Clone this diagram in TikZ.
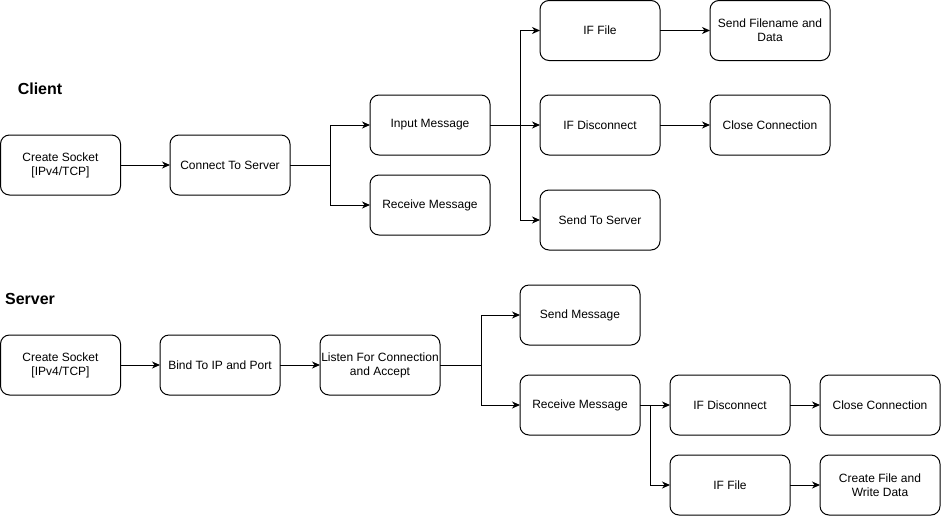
\documentclass[tikz,border=0pt]{standalone}
\usepackage{fontspec}
\setmainfont{Liberation Sans}
\usetikzlibrary{arrows.meta}
\begin{document}
\begin{tikzpicture}[x=1pt,y=-1pt,
  stepbox/.style={draw=black, line width=1pt, rounded corners=9pt,
    minimum width=120pt, minimum height=60pt, inner sep=1pt, outer sep=0pt,
    align=center, font=\fontsize{12}{14}\selectfont},
  title/.style={font=\fontsize{16}{18}\selectfont\bfseries, inner sep=0pt},
  arr/.style={line width=1pt, -{Stealth[length=8pt,width=7pt,inset=2.5pt]}},
  ln/.style={line width=1pt}]
\useasboundingbox (0,0) rectangle (941,517);

% ---- Client ----
\node[title] (client) at (40,89) {Client};
\node[stepbox] (ccs)   at (60.5,165) {Create Socket\\{}[IPv4/TCP]};
\node[stepbox] (ccon)  at (230,165) {Connect To Server};
\node[stepbox] (cin)   at (430,125) {Input Message};
\node[stepbox] (crecv) at (430,205) {Receive Message};
\node[stepbox] (cfile) at (600,30.5) {IF File};
\node[stepbox] (cdisc) at (600,125) {IF Disconnect};
\node[stepbox] (csend) at (600,220) {Send To Server};
\node[stepbox] (cfdat) at (770,30.5) {Send Filename and\\Data};
\node[stepbox] (cclose) at (770,125) {Close Connection};

\coordinate (cj1) at (330,165);
\coordinate (cj2) at (520,125);
\draw[arr] (ccs) -- (ccon);
\draw[ln] (ccon) -- (cj1);
\draw[arr] (cj1) |- (cin);
\draw[arr] (cj1) |- (crecv);
\draw[ln] (cin) -- (cj2);
\draw[arr] (cj2) |- (cfile);
\draw[arr] (cj2) -- (cdisc);
\draw[arr] (cj2) |- (csend);
\draw[arr] (cfile) -- (cfdat);
\draw[arr] (cdisc) -- (cclose);

% ---- Server ----
\node[title] (server) at (30,299) {Server};
\node[stepbox] (scs)   at (60.5,365) {Create Socket\\{}[IPv4/TCP]};
\node[stepbox] (sbind) at (220,365) {Bind To IP and Port};
\node[stepbox] (slist) at (380,365) {Listen For Connection\\and Accept};
\node[stepbox] (ssend) at (580,315) {Send Message};
\node[stepbox] (srecv) at (580,405) {Receive Message};
\node[stepbox] (sdisc) at (730,405) {IF Disconnect};
\node[stepbox] (sclose) at (880,405) {Close Connection};
\node[stepbox] (sfile) at (730,485) {IF File};
\node[stepbox] (swrite) at (880,485) {Create File and\\Write Data};

\coordinate (sj1) at (481,365);
\coordinate (sj2) at (650,405);
\draw[arr] (scs) -- (sbind);
\draw[arr] (sbind) -- (slist);
\draw[ln] (slist) -- (sj1);
\draw[arr] (sj1) |- (ssend);
\draw[arr] (sj1) |- (srecv);
\draw[ln] (srecv) -- (sj2);
\draw[arr] (sj2) -- (sdisc);
\draw[arr] (sj2) |- (sfile);
\draw[arr] (sdisc) -- (sclose);
\draw[arr] (sfile) -- (swrite);
\end{tikzpicture}
\end{document}
